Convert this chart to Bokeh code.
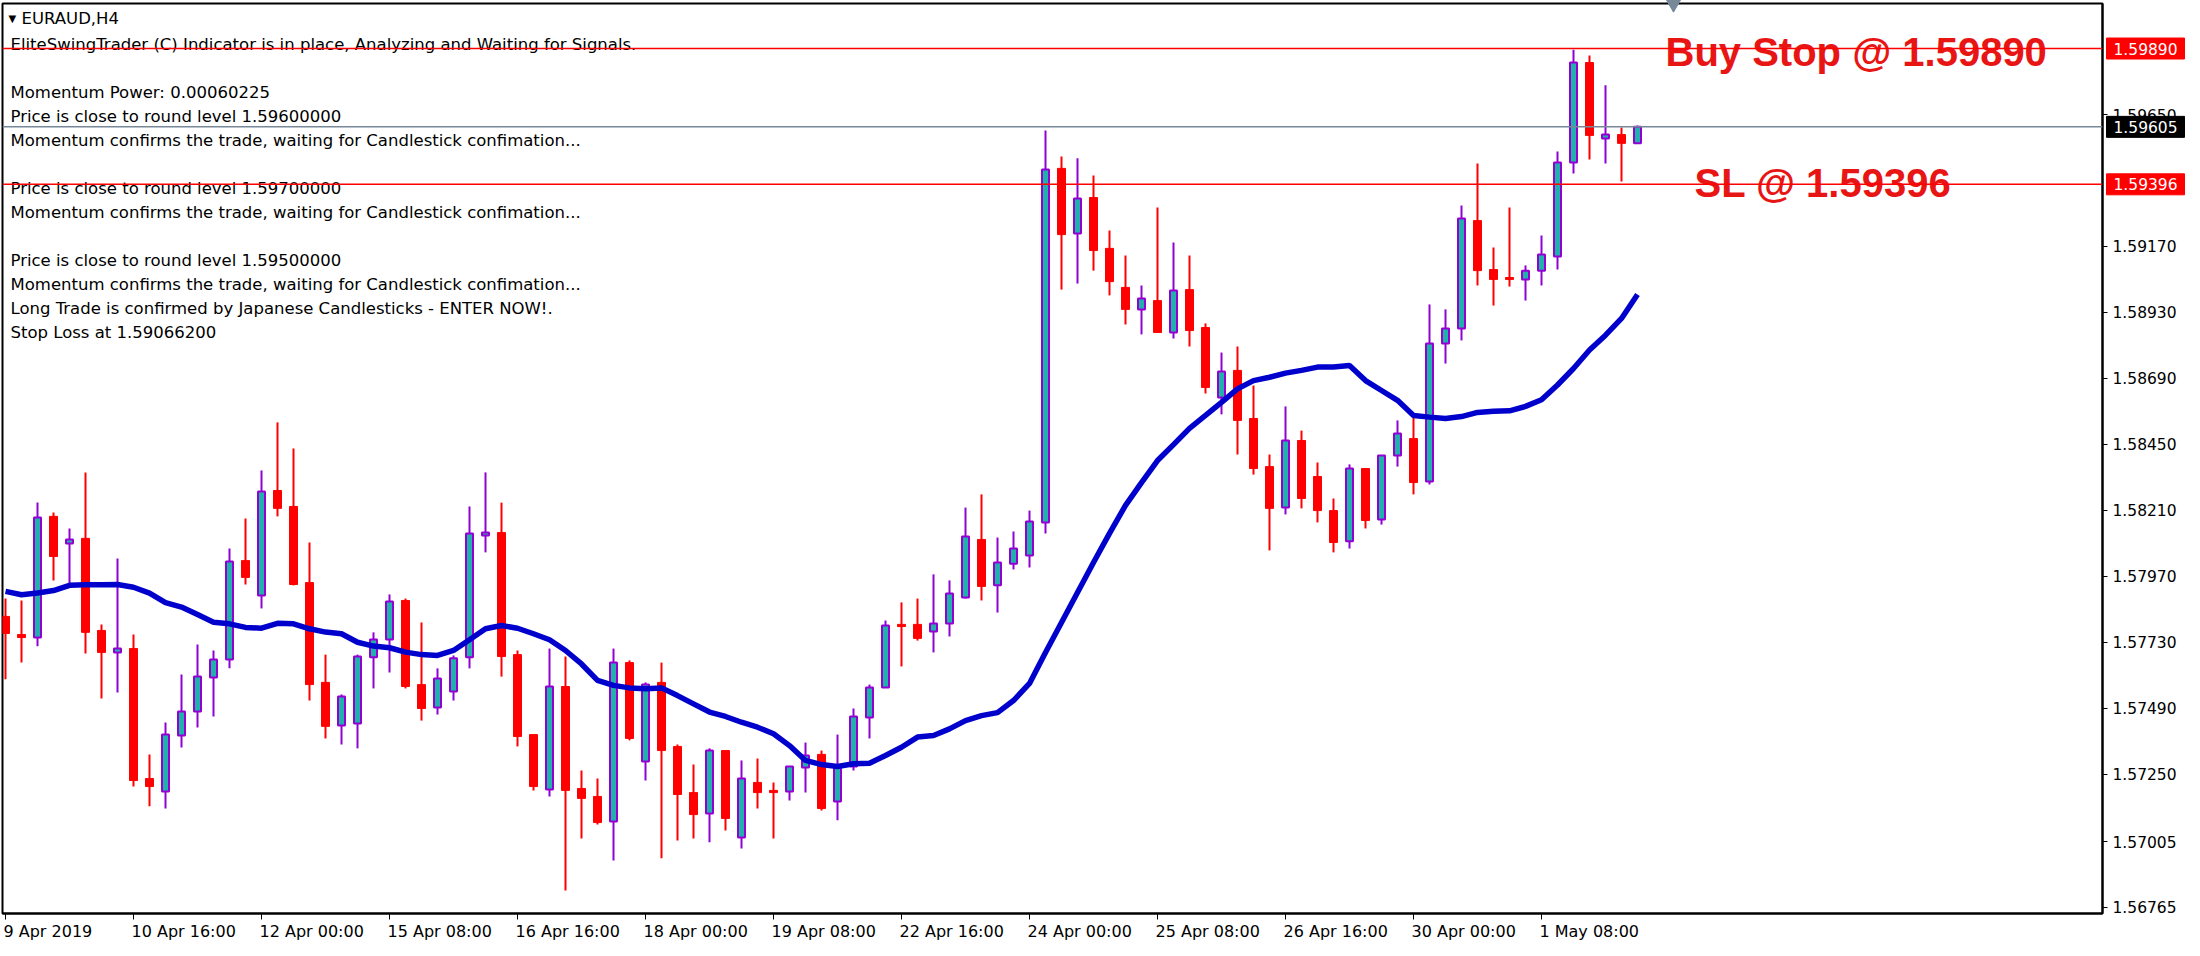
from bokeh.plotting import figure
from bokeh.models import Range1d, FixedTicker, PrintfTickFormatter, Span, ColumnDataSource
from bokeh.embed import file_html
from bokeh.resources import INLINE
from bokeh.core.properties import value

# ---------------- data (EURAUD, H4) ----------------
bar_open = [1.57824, 1.57758, 1.57747, 1.58188, 1.58089, 1.58108, 1.57773, 1.57693, 1.57707, 1.57234,
            1.57187, 1.57391, 1.57478, 1.57602, 1.57667, 1.58027, 1.57900, 1.58282, 1.58224, 1.57947,
            1.57584, 1.57427, 1.57434, 1.57675, 1.57740, 1.57882, 1.57576, 1.57493, 1.57551, 1.57675,
            1.58118, 1.58129, 1.57685, 1.57394, 1.57194, 1.57569, 1.57198, 1.57169, 1.57078, 1.57656,
            1.57296, 1.57584, 1.57351, 1.57183, 1.57107, 1.57336, 1.57020, 1.57220, 1.57191, 1.57187,
            1.57274, 1.57322, 1.57151, 1.57278, 1.57456, 1.57565, 1.57795, 1.57795, 1.57769, 1.57798,
            1.57893, 1.58104, 1.57937, 1.58016, 1.58046, 1.58166, 1.59454, 1.59217, 1.59348, 1.59163,
            1.59021, 1.58941, 1.58973, 1.58857, 1.59013, 1.58875, 1.58620, 1.58719, 1.58544, 1.58369,
            1.58220, 1.58464, 1.58333, 1.58209, 1.58097, 1.58362, 1.58177, 1.58409, 1.58471, 1.58315,
            1.58817, 1.58871, 1.59264, 1.59086, 1.59057, 1.59050, 1.59082, 1.59133, 1.59475, 1.59839,
            1.59563, 1.59577, 1.59545]
bar_high = [1.57889, 1.57882, 1.58238, 1.58202, 1.58144, 1.58348, 1.57795, 1.58035, 1.57758, 1.57322,
            1.57438, 1.57613, 1.57722, 1.57700, 1.58071, 1.58180, 1.58355, 1.58530, 1.58435, 1.58093,
            1.57685, 1.57540, 1.57685, 1.57766, 1.57904, 1.57889, 1.57802, 1.57635, 1.57682, 1.58224,
            1.58348, 1.58238, 1.57700, 1.57394, 1.57707, 1.57678, 1.57263, 1.57234, 1.57707, 1.57664,
            1.57584, 1.57656, 1.57358, 1.57285, 1.57344, 1.57336, 1.57300, 1.57307, 1.57220, 1.57278,
            1.57365, 1.57336, 1.57394, 1.57489, 1.57576, 1.57809, 1.57875, 1.57889, 1.57977, 1.57955,
            1.58220, 1.58268, 1.58111, 1.58133, 1.58209, 1.59592, 1.59497, 1.59491, 1.59428, 1.59228,
            1.59137, 1.59028, 1.59312, 1.59184, 1.59137, 1.58890, 1.58784, 1.58806, 1.58664, 1.58413,
            1.58588, 1.58500, 1.58384, 1.58253, 1.58377, 1.58362, 1.58409, 1.58537, 1.58551, 1.58959,
            1.58941, 1.59319, 1.59472, 1.59166, 1.59312, 1.59101, 1.59210, 1.59515, 1.59886, 1.59865,
            1.59756, 1.59603, 1.59610]
bar_low = [1.57595, 1.57656, 1.57715, 1.57955, 1.57944, 1.57689, 1.57525, 1.57547, 1.57205, 1.57133,
           1.57125, 1.57347, 1.57420, 1.57460, 1.57635, 1.57940, 1.57853, 1.58188, 1.57937, 1.57518,
           1.57380, 1.57358, 1.57344, 1.57562, 1.57620, 1.57562, 1.57445, 1.57467, 1.57518, 1.57635,
           1.58057, 1.57605, 1.57351, 1.57191, 1.57169, 1.56827, 1.57016, 1.57067, 1.56936, 1.57373,
           1.57227, 1.56944, 1.57009, 1.57016, 1.57002, 1.57045, 1.56980, 1.57125, 1.57016, 1.57154,
           1.57183, 1.57118, 1.57082, 1.57263, 1.57380, 1.57565, 1.57642, 1.57736, 1.57693, 1.57751,
           1.57889, 1.57882, 1.57838, 1.57995, 1.58002, 1.58126, 1.59013, 1.59035, 1.59082, 1.58992,
           1.58886, 1.58850, 1.58857, 1.58835, 1.58806, 1.58635, 1.58559, 1.58413, 1.58340, 1.58064,
           1.58195, 1.58217, 1.58166, 1.58057, 1.58071, 1.58144, 1.58158, 1.58369, 1.58268, 1.58304,
           1.58744, 1.58828, 1.59028, 1.58955, 1.59024, 1.58973, 1.59028, 1.59086, 1.59435, 1.59486,
           1.59472, 1.59406, 1.59545]
bar_close = [1.57762, 1.57747, 1.58184, 1.58042, 1.58104, 1.57766, 1.57693, 1.57707, 1.57227, 1.57205,
             1.57394, 1.57478, 1.57605, 1.57667, 1.58024, 1.57966, 1.58278, 1.58217, 1.57940, 1.57576,
             1.57424, 1.57533, 1.57678, 1.57740, 1.57878, 1.57569, 1.57489, 1.57598, 1.57672, 1.58126,
             1.58129, 1.57678, 1.57387, 1.57205, 1.57569, 1.57191, 1.57162, 1.57074, 1.57656, 1.57380,
             1.57576, 1.57336, 1.57176, 1.57103, 1.57336, 1.57089, 1.57234, 1.57183, 1.57183, 1.57278,
             1.57318, 1.57125, 1.57278, 1.57460, 1.57565, 1.57791, 1.57787, 1.57744, 1.57798, 1.57907,
             1.58115, 1.57933, 1.58020, 1.58071, 1.58169, 1.59450, 1.59213, 1.59344, 1.59155, 1.59042,
             1.58941, 1.58981, 1.58857, 1.59010, 1.58864, 1.58657, 1.58715, 1.58537, 1.58362, 1.58217,
             1.58464, 1.58253, 1.58209, 1.58093, 1.58362, 1.58173, 1.58409, 1.58489, 1.58311, 1.58817,
             1.58871, 1.59272, 1.59082, 1.59050, 1.59050, 1.59082, 1.59141, 1.59475, 1.59839, 1.59574,
             1.59577, 1.59545, 1.59605]
ma_values = [1.57915, 1.57903, 1.57909, 1.57918, 1.57937, 1.57939, 1.57939, 1.57940, 1.57930, 1.57909,
             1.57874, 1.57858, 1.57831, 1.57803, 1.57797, 1.57784, 1.57781, 1.57799, 1.57797, 1.57779,
             1.57767, 1.57761, 1.57730, 1.57716, 1.57710, 1.57694, 1.57685, 1.57682, 1.57700, 1.57739,
             1.57779, 1.57791, 1.57781, 1.57761, 1.57739, 1.57700, 1.57651, 1.57591, 1.57573, 1.57564,
             1.57561, 1.57564, 1.57536, 1.57506, 1.57476, 1.57460, 1.57439, 1.57421, 1.57397, 1.57354,
             1.57300, 1.57285, 1.57278, 1.57288, 1.57290, 1.57318, 1.57348, 1.57385, 1.57391, 1.57415,
             1.57445, 1.57463, 1.57474, 1.57518, 1.57580, 1.57693, 1.57802, 1.57911, 1.58020, 1.58126,
             1.58228, 1.58311, 1.58391, 1.58449, 1.58508, 1.58555, 1.58603, 1.58652, 1.58682, 1.58694,
             1.58709, 1.58719, 1.58731, 1.58731, 1.58737, 1.58682, 1.58646, 1.58610, 1.58555, 1.58549,
             1.58544, 1.58551, 1.58566, 1.58570, 1.58572, 1.58588, 1.58612, 1.58666, 1.58726, 1.58793,
             1.58847, 1.58908, 1.58995]

x_tick_bars = [0, 8, 16, 24, 32, 40, 48, 56, 64, 72, 80, 88, 96]
x_tick_labels = ["9 Apr 2019", "10 Apr 16:00", "12 Apr 00:00", "15 Apr 08:00", "16 Apr 16:00",
                 "18 Apr 00:00", "19 Apr 08:00", "22 Apr 16:00", "24 Apr 00:00", "25 Apr 08:00",
                 "26 Apr 16:00", "30 Apr 00:00", "1 May 08:00"]
y_tick_values = [1.59650, 1.59170, 1.58930, 1.58690, 1.58450, 1.58210, 1.57970,
                 1.57730, 1.57490, 1.57250, 1.57005, 1.56765]

buy_stop = 1.59890
stop_loss = 1.59396
bid_price = 1.59605

symbol_title = "EURAUD,H4"
comment_lines = [
    "EliteSwingTrader (C) Indicator is in place, Analyzing and Waiting for Signals.",
    "",
    "Momentum Power: 0.00060225",
    "Price is close to round level 1.59600000",
    "Momentum confirms the trade, waiting for Candlestick confimation...",
    "",
    "Price is close to round level 1.59700000",
    "Momentum confirms the trade, waiting for Candlestick confimation...",
    "",
    "Price is close to round level 1.59500000",
    "Momentum confirms the trade, waiting for Candlestick confimation...",
    "Long Trade is confirmed by Japanese Candlesticks - ENTER NOW!.",
    "Stop Loss at 1.59066200",
]

# ---------------- layout (page pixels; canvas starts at page 0,0) ----------------
W, H = 2196, 950
FRAME_L, FRAME_R, FRAME_T, FRAME_B = 2, 2102, 3, 913
BAR_PX = 16.0
BAR0_PX = 5.0
P_REF, Y_REF, PX_PER_PRICE = 1.59650, 114.0, 27487.0

def x_of(px):
    return (px - BAR0_PX) / BAR_PX

def y_of(py):
    return P_REF + (Y_REF - py) / PX_PER_PRICE

RED = "#FF0000"
TEAL = "#20B2AA"
PURPLE = "#9400D3"
BLUE = "#0000CD"
SLATE = "#778899"
FONT_NAME = "DejaVu Sans"
FONT = value(FONT_NAME)

p = figure(width=W, height=H, output_backend="svg", toolbar_location=None,
           x_range=Range1d(x_of(FRAME_L), x_of(FRAME_R)),
           y_range=Range1d(y_of(FRAME_B), y_of(FRAME_T)),
           y_axis_location="right",
           min_border_left=FRAME_L, min_border_top=FRAME_T,
           min_border_right=W - FRAME_R,
           min_border_bottom=H - FRAME_B)
p.grid.visible = False
p.outline_line_color = "black"
p.outline_line_width = 2
p.background_fill_color = "white"
p.border_fill_color = "white"

# ---- x axis: ticks at bars, labels left-aligned just after the tick ----
cw = {"0": .636, "1": .636, "2": .636, "3": .636, "4": .636, "5": .636, "6": .636, "7": .636,
      "8": .636, "9": .636, " ": .318, ":": .337, "A": .684, "p": .635, "r": .411, "M": .863,
      "a": .613, "y": .592}
XFS = 16
centers = []
for b, lab in zip(x_tick_bars, x_tick_labels):
    wpx = sum(cw.get(ch, .6) for ch in lab) * XFS
    centers.append(round(b + (-2 + wpx / 2) / BAR_PX, 4))
p.xaxis.ticker = FixedTicker(ticks=centers, minor_ticks=x_tick_bars)
p.xaxis.major_label_overrides = {c: lab for c, lab in zip(centers, x_tick_labels)}
p.xaxis.major_tick_out = 0
p.xaxis.major_tick_in = 0
p.xaxis.minor_tick_out = 6
p.xaxis.minor_tick_in = 0
p.xaxis.minor_tick_line_color = "black"
p.xaxis.minor_tick_line_width = 1
p.xaxis.axis_line_color = "black"
p.xaxis.axis_line_width = 2
p.xaxis.major_label_standoff = 2
p.xaxis.major_label_text_font = FONT_NAME
p.xaxis.major_label_text_font_size = f"{XFS}px"
p.xaxis.major_label_text_color = "black"

# ---- y axis ----
p.yaxis.ticker = FixedTicker(ticks=y_tick_values)
p.yaxis.formatter = PrintfTickFormatter(format="%.5f")
p.yaxis.major_tick_out = 5
p.yaxis.major_tick_in = 0
p.yaxis.minor_tick_out = 0
p.yaxis.minor_tick_line_color = None
p.yaxis.axis_line_color = "black"
p.yaxis.axis_line_width = 2
p.yaxis.major_label_standoff = 5
p.yaxis.major_label_text_font = FONT_NAME
p.yaxis.major_label_text_font_size = "15.5px"
p.yaxis.major_label_text_color = "black"

# ---- candles ----
idx = list(range(len(bar_open)))
is_bull = [c >= o for o, c in zip(bar_open, bar_close)]
wick_src = ColumnDataSource(dict(x=idx, lo=bar_low, hi=bar_high,
                                 col=[PURPLE if b else RED for b in is_bull]))
p.segment(x0="x", y0="lo", x1="x", y1="hi", line_color="col", line_width=2, source=wick_src)

def body_src(flag):
    xs, tops, bots = [], [], []
    for i, o, c, b in zip(idx, bar_open, bar_close, is_bull):
        if b == flag:
            xs.append(i)
            tops.append(max(o, c))
            bots.append(min(o, c))
    return ColumnDataSource(dict(x=xs, top=tops, bottom=bots))

p.vbar(x="x", top="top", bottom="bottom", width=7 / BAR_PX, fill_color=TEAL,
       line_color=PURPLE, line_width=2, source=body_src(True))
p.vbar(x="x", top="top", bottom="bottom", width=8 / BAR_PX, fill_color=RED,
       line_color=RED, line_width=1, source=body_src(False))

# ---- moving average ----
p.line(idx, ma_values, line_color=BLUE, line_width=5.5)

# ---- horizontal levels ----
p.add_layout(Span(location=buy_stop, dimension="width", line_color=RED, line_width=1.5))
p.add_layout(Span(location=stop_loss, dimension="width", line_color=RED, line_width=1.5))
p.add_layout(Span(location=bid_price, dimension="width", line_color=SLATE, line_width=1.5))

# ---- big trade labels ----
p.text(x=[x_of(1665)], y=[buy_stop], text=[f"Buy Stop @ {buy_stop:.5f}"],
       text_font=value("Liberation Sans"), text_font_style="bold", text_font_size="40px",
       text_color="#E81515", text_baseline="alphabetic", y_offset=3)
p.text(x=[x_of(1694)], y=[stop_loss], text=[f"SL @ {stop_loss:.5f}"],
       text_font=value("Liberation Sans"), text_font_style="bold", text_font_size="40px",
       text_color="#E81515", text_baseline="alphabetic", y_offset=-1)

# ---- chart-shift marker at the top ----
p.scatter(x=[x_of(1673)], y=[y_of(FRAME_T)], marker="inverted_triangle", size=15,
          fill_color=SLATE, line_color=SLATE, level="overlay")

# ---- price boxes on the scale (drawn on the overlay level, outside the frame) ----
box_vals = [buy_stop, stop_loss, bid_price]
box_cols = [RED, RED, "black"]
box_src = ColumnDataSource(dict(x=[x_of(2145)] * 3, tx=[x_of(2113)] * 3, y=box_vals,
                                col=box_cols, txt=[f"{v:.5f}" for v in box_vals]))
p.rect(x="x", y="y", width=78 / BAR_PX, height=21, height_units="screen",
       fill_color="col", line_color="col", source=box_src, level="overlay")
p.text(x="tx", y="y", text="txt", text_color="white", text_baseline="middle",
       text_font=FONT, text_font_size="15.5px", source=box_src, level="overlay")

# ---- comment block (top-left) ----
p.text(x=[x_of(8)], y=[y_of(18)], text=["\u25BC"], text_font=FONT, text_font_size="10px",
       text_color="black", text_baseline="middle")
p.text(x=[x_of(21)], y=[y_of(18)], text=[symbol_title], text_font=FONT, text_font_size="16.5px",
       text_color="black", text_baseline="middle")
cx, cy, ct = [], [], []
for k, line in enumerate(comment_lines, start=1):
    if line:
        cx.append(x_of(10))
        cy.append(y_of(20 + 24 * k))
        ct.append(line)
p.text(x=cx, y=cy, text=ct, text_font=FONT, text_font_size="16.5px", text_color="black",
       text_baseline="middle")

open("out.html", "w").write(file_html(p, INLINE))
